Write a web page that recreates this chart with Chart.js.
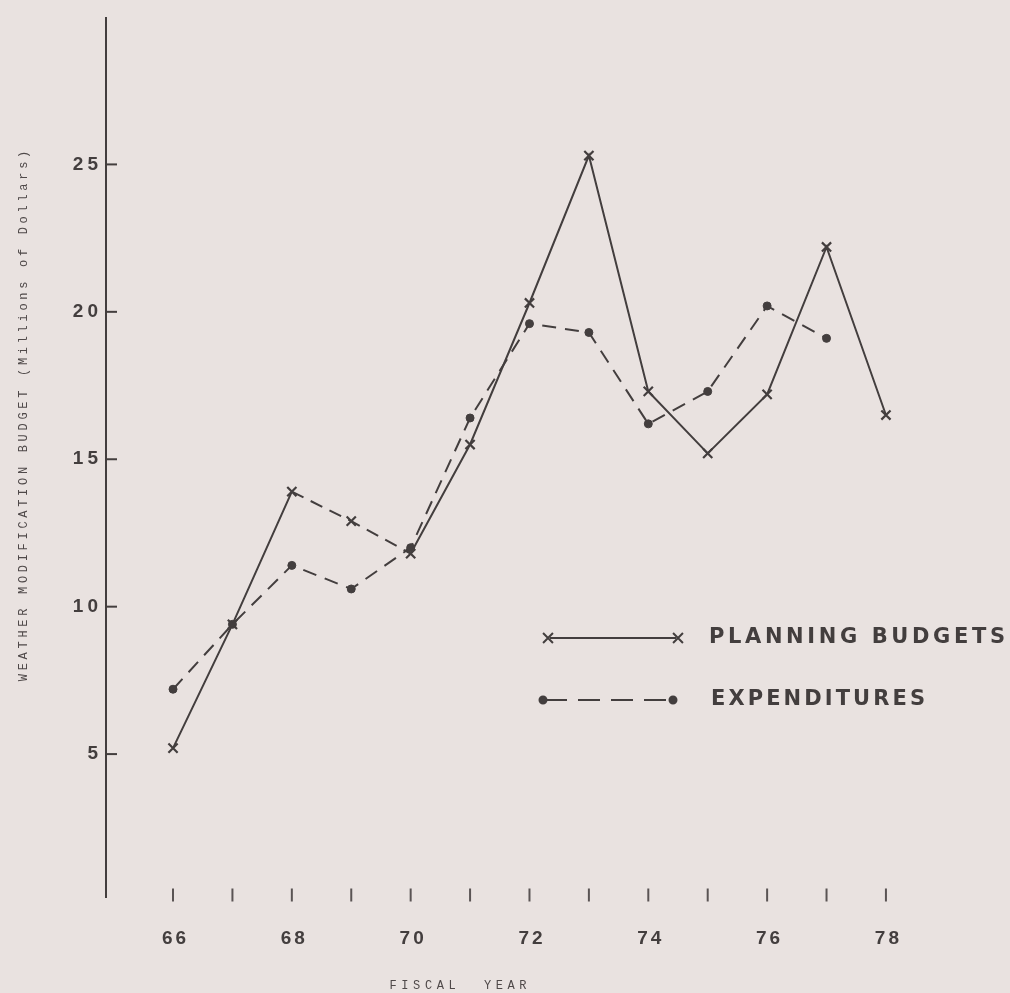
<!DOCTYPE html>
<html>
<head>
<meta charset="utf-8">
<title>Weather modification budget</title>
<script src="https://cdn.jsdelivr.net/npm/chart.js@4.4.1/dist/chart.umd.min.js"></script>
<style>
  html, body { margin: 0; padding: 0; background: #e9e2e0; }
  canvas { display: block; }
</style>
</head>
<body>
<canvas id="grafico" width="1010" height="993"></canvas>
<script>
// valores (millones de dolares)
const years = [66, 67, 68, 69, 70, 71, 72, 73, 74, 75, 76, 77, 78];
const planningBudgets = [5.2, 9.4, 13.9, 12.9, 11.8, 15.5, 20.3, 25.3, 17.3, 15.2, 17.2, 22.2, 16.5];
const expenditures = [7.2, 9.4, 11.4, 10.6, 12.0, 16.4, 19.6, 19.3, 16.2, 17.3, 20.2, 19.1];
const xTickLabels = ['66', '68', '70', '72', '74', '76', '78'];
const yTickValues = [5, 10, 15, 20, 25];
const legendLabels = ['PLANNING BUDGETS', 'EXPENDITURES'];

const tinta = '#433e3e';
const fondo = '#e9e2e0';

// texto con espaciado entre letras
function texto(ctx, str, x, y, font, spacing, align, color) {
    ctx.save();
    ctx.font = font;
    ctx.letterSpacing = spacing + 'px';
    ctx.fillStyle = color || tinta;
    ctx.textBaseline = 'middle';
    ctx.textAlign = align;
    let dx = 0;
    if (align == 'center') dx = spacing / 2;
    if (align == 'right') dx = spacing;
    ctx.fillText(str, x + dx, y);
    ctx.restore();
}

// texto ajustado a un ancho dado
function textoAncho(ctx, str, x, y, font, ancho, color) {
    ctx.save();
    ctx.font = font;
    ctx.letterSpacing = '0px';
    let w = ctx.measureText(str).width;
    ctx.restore();
    let sp = (ancho - w) / (str.length - 1);
    texto(ctx, str, x, y, font, sp, 'left', color);
}

const ejes = {
    id: 'ejes',
    beforeDraw(chart) {
        const ctx = chart.ctx;
        ctx.save();
        ctx.fillStyle = fondo;
        ctx.fillRect(0, 0, chart.width, chart.height);
        ctx.restore();
    },
    beforeDatasetsDraw(chart) {
        const ctx = chart.ctx;
        const sx = chart.scales.x;
        const sy = chart.scales.y;
        const x0 = sx.getPixelForValue(sx.min);
        const y0 = sy.getPixelForValue(0);

        ctx.save();
        ctx.strokeStyle = tinta;
        ctx.lineWidth = 2;
        ctx.beginPath();
        ctx.moveTo(x0 + 1, sy.getPixelForValue(30));
        ctx.lineTo(x0 + 1, sy.getPixelForValue(0.12));
        ctx.stroke();

        // marcas del eje y
        yTickValues.forEach((v) => {
            let py = sy.getPixelForValue(v);
            ctx.beginPath();
            ctx.moveTo(x0, py);
            ctx.lineTo(x0 + 12, py);
            ctx.stroke();
            texto(ctx, String(v), x0 - 7, py, 'bold 19px "Liberation Sans"', 4, 'right');
        });

        // marcas del eje x (sin linea)
        ctx.strokeStyle = '#5a5454';
        years.forEach((yr) => {
            let px = sx.getPixelForValue(yr);
            ctx.beginPath();
            ctx.moveTo(px, y0 - 13);
            ctx.lineTo(px, y0);
            ctx.stroke();
        });
        ctx.restore();

        xTickLabels.forEach((t) => {
            let px = sx.getPixelForValue(Number(t));
            texto(ctx, t, px + 1, y0 + 37, 'bold 19px "Liberation Sans"', 3, 'center');
        });

        // titulos
        texto(ctx, 'FISCAL  YEAR', 458, 986, '12px "Liberation Mono"', 4.6, 'center', '#4f4949');
        ctx.save();
        ctx.translate(24, 416);
        ctx.rotate(-Math.PI / 2);
        texto(ctx, 'WEATHER MODIFICATION BUDGET (Millions of Dollars)', 0, 0, '12px "Liberation Mono"', 3.7, 'center', '#4f4949');
        ctx.restore();
    },
    afterDraw(chart) {
        const ctx = chart.ctx;
        ctx.save();
        ctx.strokeStyle = tinta;
        ctx.fillStyle = tinta;
        ctx.lineWidth = 2;

        ctx.beginPath();
        ctx.moveTo(550, 638);
        ctx.lineTo(676, 638);
        ctx.stroke();
        Chart.helpers.drawPoint(ctx, { pointStyle: 'crossRot', radius: 7, rotation: 0, borderWidth: 2 }, 548, 638);
        Chart.helpers.drawPoint(ctx, { pointStyle: 'crossRot', radius: 7, rotation: 0, borderWidth: 2 }, 678, 638);

        ctx.setLineDash([22, 11]);
        ctx.beginPath();
        ctx.moveTo(545, 700);
        ctx.lineTo(672, 700);
        ctx.stroke();
        ctx.setLineDash([]);
        Chart.helpers.drawPoint(ctx, { pointStyle: 'circle', radius: 3.5, rotation: 0, borderWidth: 1 }, 543, 700);
        Chart.helpers.drawPoint(ctx, { pointStyle: 'circle', radius: 3.5, rotation: 0, borderWidth: 1 }, 673, 700);
        ctx.restore();

        textoAncho(ctx, legendLabels[0], 709, 638, 'bold 21px "DejaVu Sans"', 296);
        textoAncho(ctx, legendLabels[1], 711, 700, 'bold 21px "DejaVu Sans"', 214);
    }
};

const ctx = document.querySelector('#grafico').getContext('2d');
const grafico = new Chart(ctx, {
    type: 'line',
    data: {
        datasets: [{
            label: legendLabels[0],
            data: years.map((yr, i) => ({ x: yr, y: planningBudgets[i] })),
            borderColor: tinta,
            backgroundColor: tinta,
            borderWidth: 2,
            pointStyle: 'crossRot',
            pointRadius: 6.5,
            pointBorderWidth: 2.2,
            segment: {
                borderDash: (c) => (c.p0DataIndex == 2 || c.p0DataIndex == 3) ? [13, 8] : undefined
            }
        }, {
            label: legendLabels[1],
            data: expenditures.map((v, i) => ({ x: years[i], y: v })),
            borderColor: tinta,
            backgroundColor: tinta,
            borderWidth: 2,
            borderDash: [14, 9],
            pointStyle: 'circle',
            pointRadius: 4,
            pointBorderWidth: 1
        }]
    },
    options: {
        responsive: false,
        animation: false,
        devicePixelRatio: 1,
        layout: { padding: { left: 105, top: 17, right: 10, bottom: 91.5 } },
        plugins: { legend: { display: false }, tooltip: { enabled: false } },
        scales: {
            x: { type: 'linear', display: false, min: 64.855, max: 79.92 },
            y: { display: false, min: 0, max: 30 }
        }
    },
    plugins: [ejes]
});
</script>
</body>
</html>
